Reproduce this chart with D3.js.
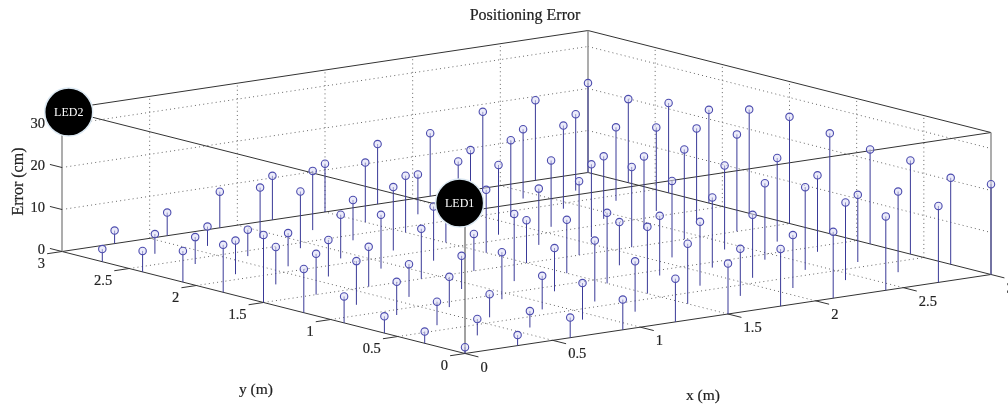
<!DOCTYPE html>
<html>
<head>
<meta charset="utf-8">
<script src="https://cdn.jsdelivr.net/npm/d3@7"></script>
<style>
  html, body { margin: 0; padding: 0; background: #fff; overflow: hidden; }
  svg { display: block; }
  text { font-family: "Liberation Serif", serif; fill: #222; stroke: #222; stroke-width: 0.2px; }
</style>
</head>
<body>
<div id="chart"></div>
<script>
const width = 1008, height = 406;

// measurement grid (m)
const xPositions = [0, 0.3, 0.6, 0.9, 1.2, 1.5, 1.8, 2.1, 2.4, 2.7, 3];
const yPositions = [0, 0.3, 0.6, 0.9, 1.2, 1.5, 1.8, 2.1, 2.4, 2.7, 3];

// error in cm, one list per y position
const errorY00 = [1.5, 2.5, 4.8, 7.2, 10.3, 12, 13.6, 15.8, 17.6, 18.2, 21.5];
const errorY03 = [2.8, 3.9, 3.9, 8.7, 12, 14.3, 11.2, 12.6, 18.5, 19.2, 20.6];
const errorY06 = [4, 5.6, 5.5, 8, 14.5, 15.9, 15.2, 15, 19.7, 16, 22.3];
const errorY09 = [6.3, 7.9, 7.2, 11.2, 10.3, 16.8, 14.2, 16.7, 18.2, 18.2, 22.5];
const errorY12 = [10.4, 10.4, 7.8, 7.9, 16, 12.7, 10.3, 18.2, 20, 19.9, 23.9];
const errorY15 = [16.1, 9.7, 9.5, 11.9, 8.8, 10.2, 17.6, 19.1, 21.4, 23.1, 25.4];
const errorY18 = [11.3, 8.9, 8.7, 12.8, 12.9, 15, 13.4, 17.3, 17.3, 22.1, 24.7];
const errorY21 = [7.4, 8, 7.9, 10.4, 15.1, 11, 16.6, 15.8, 14.9, 19.9, 22.2];
const errorY24 = [5, 6.4, 6.3, 13.5, 9.6, 13.5, 15, 18.2, 19.8, 17.5, 21.4];
const errorY27 = [3, 4.7, 4.6, 12, 14.1, 14.2, 9.5, 13.4, 16.5, 18.2, 19.9];
const errorY30 = [null, 3.1, 5.5, 8.6, 10.5, 11.5, 14.3, 15, 18.2, 19.1, 21.3];
const errorRows = [errorY00, errorY03, errorY06, errorY09, errorY12, errorY15,
                   errorY18, errorY21, errorY24, errorY27, errorY30];

const xTicks = [0, 0.5, 1, 1.5, 2, 2.5, 3];
const yTicks = [0, 0.5, 1, 1.5, 2, 2.5, 3];
const zTicks = [0, 10, 20, 30];
const zTop = 33.8;

const ledNames = ['LED1', 'LED2'];
const ledX = [0, 0];
const ledY = [0.04, 2.95];
const ledZ = [35.5, 33.6];

// the plot is an oblique projection: each data axis moves the screen point in both directions
const originX = 465, originY = 353.5;
const xAcross = d3.scaleLinear().domain([0, 3]).range([0, 526]);
const xUp = d3.scaleLinear().domain([0, 3]).range([0, -79]);
const yAcross = d3.scaleLinear().domain([0, 3]).range([0, -403]);
const yUp = d3.scaleLinear().domain([0, 3]).range([0, -102]);
const zUp = d3.scaleLinear().domain([0, 30]).range([0, -126]);

function px(x, y) { return originX + xAcross(x) + yAcross(y); }
function py(x, y, z) { return originY + xUp(x) + yUp(y) + zUp(z); }

const svg = d3.select('#chart').append('svg')
    .attr('width', width)
    .attr('height', height)
    .style('filter', 'blur(0.35px)');

function seg(g, a, b) {
  return g.append('line')
    .attr('x1', px(a[0], a[1])).attr('y1', py(a[0], a[1], a[2]))
    .attr('x2', px(b[0], b[1])).attr('y2', py(b[0], b[1], b[2]));
}

// dotted grid on floor and the two back walls
const grid = svg.append('g')
    .attr('stroke', '#666')
    .attr('stroke-width', 1)
    .attr('stroke-dasharray', '1 3.2');

xTicks.slice(1, -1).forEach(t => {
  seg(grid, [t, 0, 0], [t, 3, 0]);
  seg(grid, [t, 3, 0], [t, 3, zTop]);
});
yTicks.slice(1, -1).forEach(t => {
  seg(grid, [0, t, 0], [3, t, 0]);
  seg(grid, [3, t, 0], [3, t, zTop]);
});
zTicks.slice(1).forEach(t => {
  seg(grid, [0, 3, t], [3, 3, t]);
  seg(grid, [3, 3, t], [3, 0, t]);
});

// box edges
const box = svg.append('g').attr('stroke', '#333').attr('stroke-width', 1);
[0, zTop].forEach(z => {
  seg(box, [0, 0, z], [3, 0, z]);
  seg(box, [3, 0, z], [3, 3, z]);
  seg(box, [3, 3, z], [0, 3, z]);
  seg(box, [0, 3, z], [0, 0, z]);
});
seg(box, [0, 0, 0], [0, 0, zTop]).attr('stroke', '#444');
[[0, 3], [3, 3], [3, 0]].forEach(c => {
  seg(box, [c[0], c[1], 0], [c[0], c[1], zTop]).attr('stroke', '#999').attr('stroke-width', 1.6);
});

// ticks
const ticks = svg.append('g').attr('stroke', '#333').attr('stroke-width', 1);
xTicks.forEach(t => seg(ticks, [t, 0, 0], [t, -0.1, 0]));
yTicks.forEach(t => seg(ticks, [0, t, 0], [-0.085, t, 0]));
zTicks.forEach(t => seg(ticks, [0, 3, t], [0, 3.09, t]));

// stems and markers
const points = [];
errorRows.forEach((row, j) => {
  row.forEach((e, i) => {
    if (e !== null) points.push({x: xPositions[i], y: yPositions[j], z: e});
  });
});

svg.append('g').selectAll('line')
  .data(points)
  .join('line')
    .attr('x1', d => px(d.x, d.y))
    .attr('x2', d => px(d.x, d.y))
    .attr('y1', d => py(d.x, d.y, 0))
    .attr('y2', d => py(d.x, d.y, d.z))
    .attr('stroke', '#3a3a98')
    .attr('stroke-width', 1);

svg.append('g').selectAll('circle')
  .data(points)
  .join('circle')
    .attr('cx', d => px(d.x, d.y))
    .attr('cy', d => py(d.x, d.y, d.z))
    .attr('r', 3.7)
    .attr('fill', '#dcdcf6')
    .attr('fill-opacity', 0.55)
    .attr('stroke', '#4c4cae')
    .attr('stroke-width', 1.1);

// tick labels
svg.append('g').selectAll('text')
  .data(xTicks)
  .join('text')
    .attr('x', d => px(d, 0) + 15.5)
    .attr('y', d => py(d, 0, 0) + 13)
    .attr('dy', '0.35em')
    .attr('font-size', 14.5)
    .text(d => d);

svg.append('g').selectAll('text')
  .data(yTicks)
  .join('text')
    .attr('x', d => px(0, d) - 17)
    .attr('y', d => py(0, d, 0) + 11)
    .attr('dy', '0.35em')
    .attr('text-anchor', 'end')
    .attr('font-size', 14.5)
    .text(d => d);

svg.append('g').selectAll('text')
  .data(zTicks)
  .join('text')
    .attr('x', d => px(0, 3) - 17)
    .attr('y', d => py(0, 3, d) - 3)
    .attr('dy', '0.35em')
    .attr('text-anchor', 'end')
    .attr('font-size', 14.5)
    .text(d => d);

// titles
svg.append('text')
    .attr('x', 525).attr('y', 14.5).attr('dy', '0.35em')
    .attr('text-anchor', 'middle').attr('font-size', 16)
    .text('Positioning Error');
svg.append('text')
    .attr('x', 256).attr('y', 389).attr('dy', '0.3em')
    .attr('text-anchor', 'middle').attr('font-size', 15.5)
    .text('y (m)');
svg.append('text')
    .attr('x', 703).attr('y', 395).attr('dy', '0.3em')
    .attr('text-anchor', 'middle').attr('font-size', 15.5)
    .text('x (m)');
svg.append('text')
    .attr('transform', 'translate(18,181.5) rotate(-90)')
    .attr('dy', '0.3em')
    .attr('text-anchor', 'middle').attr('font-size', 16)
    .text('Error (cm)');

// LED discs
const leds = svg.append('g').selectAll('g')
  .data(ledNames)
  .join('g')
    .attr('transform', (d, i) => `translate(${px(ledX[i], ledY[i])},${py(ledX[i], ledY[i], ledZ[i])})`);

leds.append('circle')
    .attr('r', 24)
    .attr('fill', '#000')
    .attr('stroke', '#dbe8f2')
    .attr('stroke-width', 1.5);

leds.append('text')
    .attr('text-anchor', 'middle')
    .attr('dy', '0.35em')
    .attr('font-size', 12)
    .style('fill', '#fff')
    .style('stroke', 'none')
    .text(d => d);
</script>
</body>
</html>
